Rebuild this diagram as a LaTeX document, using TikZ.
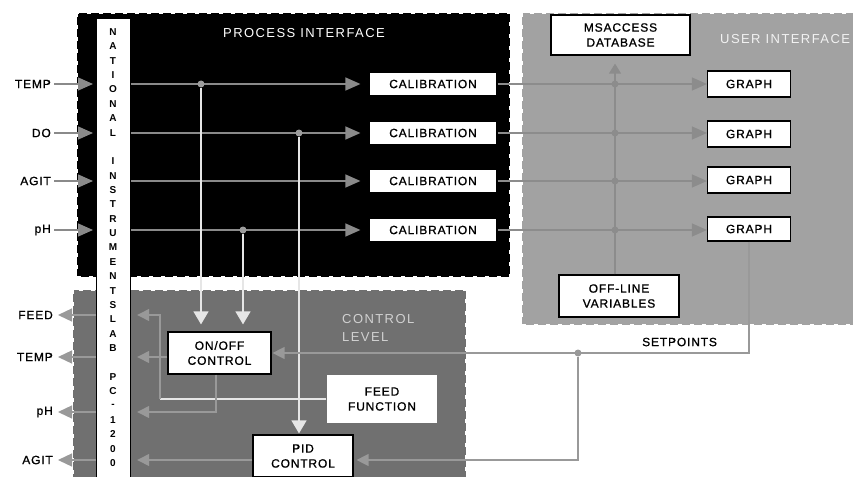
\documentclass[tikz,border=0pt]{standalone}
\usepackage{fontspec}
\setmainfont{Liberation Sans}
\newfontfamily\lblfont[LetterSpace=7,FakeBold=0.9]{Liberation Sans}
\newfontfamily\ttlfont[LetterSpace=11]{Liberation Sans}
\usetikzlibrary{arrows.meta,calc}
\definecolor{ctrlbg}{HTML}{707070}
\definecolor{userbg}{HTML}{A2A2A2}
\definecolor{lineg}{HTML}{8A8A8A}
\definecolor{uline}{HTML}{8C8C8C}
\definecolor{cline}{HTML}{999999}
\definecolor{vline}{HTML}{E6E6E6}
\begin{document}
\begin{tikzpicture}[x=1pt,y=-1pt,
  lbl/.style={font={\lblfont\fontsize{12}{15}\selectfont}, inner sep=0pt},
  ttl/.style={font={\ttlfont\fontsize{13}{18}\selectfont}, inner sep=0pt, align=left},
  box/.style={draw=black, line width=1.2pt, fill=white, font={\lblfont\fontsize{12}{15}\selectfont}, align=center, inner sep=0pt},
  nilet/.style={font={\bfseries\fontsize{10}{10}\selectfont}, inner sep=0pt},
  sig/.style={draw=lineg, line width=1.3pt},
  usig/.style={draw=uline, line width=1.3pt},
  csig/.style={draw=cline, line width=1.3pt},
  wsig/.style={draw=vline, line width=1.3pt},
  gtip/.style={-{Triangle[length=15pt,width=13pt]}},
  ctip/.style={-{Triangle[length=12pt,width=12pt]}},
  wtip/.style={-{Triangle[length=13pt,width=15pt]}},
  dotn/.style={circle, fill=#1, minimum size=7pt, inner sep=0pt},
  region/.style={draw=white, line width=1.5pt, dash pattern=on 4pt off 8pt}]
\useasboundingbox (0,0) rectangle (853,476);
% regions
\fill[black] (77,13) rectangle (510,277);
\draw[region] (77,13) rectangle (510,277);
\fill[userbg] (522,13) rectangle (870,325);
\draw[region] (522,13) rectangle (870,325);
\fill[ctrlbg] (73,290) rectangle (466,490);
\draw[region] (73,290) rectangle (466,490);
% NI bar
\node[draw=black, fill=white, line width=1.2pt, minimum width=34pt, minimum height=480pt, anchor=north west, inner sep=0pt] (ni) at (96,18) {};
\foreach \ch [count=\i from 0] in {N,A,T,I,O,N,A,L,{},I,N,S,T,R,U,M,E,N,T,S,L,A,B,{},P,C,-,1,2,0,0}
  \node[nilet] (nl\i) at (113,{32+14.37*\i}) {\ch};
% titles
\node[ttl, anchor=west, text=white] (pit) at (223,33) {PROCESS INTERFACE};
\node[ttl, anchor=west, text=white!95!black] (uit) at (720,39) {USER INTERFACE};
\node[ttl, anchor=west, text=white!82!black] (clt) at (342,328) {CONTROL\\LEVEL};
\node[lbl, anchor=west] (spl) at (642,342) {SETPOINTS};
% boxes
\node[box, minimum width=128pt, minimum height=24pt] (c1) at (433,84) {CALIBRATION};
\node[box, minimum width=128pt, minimum height=24pt] (c2) at (433,133) {CALIBRATION};
\node[box, minimum width=128pt, minimum height=24pt] (c3) at (433,181) {CALIBRATION};
\node[box, minimum width=128pt, minimum height=24pt] (c4) at (433,230) {CALIBRATION};
\node[box, minimum width=83pt, minimum height=26pt] (g1) at (749,84) {GRAPH};
\node[box, minimum width=83pt, minimum height=26pt] (g2) at (749,134) {GRAPH};
\node[box, minimum width=83pt, minimum height=26pt] (g3) at (749,180) {GRAPH};
\node[box, minimum width=83pt, minimum height=24pt] (g4) at (749,229) {GRAPH};
\node[box, minimum width=139pt, minimum height=40pt] (ms) at (620.5,35) {MSACCESS\\DATABASE};
\node[box, minimum width=120pt, minimum height=42pt] (off) at (619,296) {OFF-LINE\\VARIABLES};
\node[box, minimum width=103pt, minimum height=42pt] (onoff) at (219.5,353) {ON/OFF\\CONTROL};
\node[box, draw=none, minimum width=110pt, minimum height=48pt] (ff) at (382,399) {FEED\\FUNCTION};
\node[box, minimum width=100pt, minimum height=42pt] (pid) at (303,456) {PID\\CONTROL};
% input labels
\node[lbl, anchor=east] (tin) at (51,84) {TEMP};
\node[lbl, anchor=east] (din) at (51,133) {DO};
\node[lbl, anchor=east] (ain) at (51,181) {AGIT};
\node[lbl, anchor=east] (pin) at (51,230) {pH};
\foreach \n in {tin,din,ain,pin}
  \draw[sig, gtip, shorten >=3pt] ([xshift=3pt]\n.east) -- (\n -| ni.west);
% process lines
\foreach \c in {c1,c2,c3,c4}
  \draw[sig, gtip, shorten >=8pt] (\c -| ni.east) -- (\c.west);
% user lines
\coordinate (dbx) at (615,0);
\draw[usig, -{Triangle[length=10pt,width=12pt]}, shorten >=8pt] (off.north -| dbx) -- (ms.south -| dbx);
\foreach \c/\g in {c1/g1,c2/g2,c3/g3,c4/g4}
  \draw[usig, gtip] (\c.east) -- (\c.east -| \g.west);
\foreach \c [count=\k] in {c1,c2,c3,c4}
  \node[dotn=uline] (ud\k) at (\c -| dbx) {};
% dots in process
\node[dotn=lineg!85!white] (d1) at (201,84) {};
\node[dotn=lineg!85!white] (d2) at (299,133) {};
\node[dotn=lineg!85!white] (d4) at (243,230) {};
% vertical white arrows
\draw[wsig, wtip, shorten >=7pt] (d1) -- (d1 |- onoff.north);
\draw[wsig, wtip, shorten >=7pt] (d4) -- (d4 |- onoff.north);
\draw[wsig, wtip, shorten >=1pt] (d2) -- (d2 |- pid.north);
% setpoints
\draw[csig, ctip, shorten >=1pt] (g4.south) |- (onoff.east);
\node[dotn=cline] (spd) at (578,353) {};
\draw[csig, ctip, shorten >=3pt] (spd) |- ([yshift=-4pt]pid.east);
% control outputs
\coordinate (fc) at (160,399);
\coordinate (fo) at (0,315);
\draw[wsig] (ff.west) -- (fc);
\draw[csig, ctip, shorten >=6pt] (fc) |- (fo -| ni.east);
\draw[csig, ctip, shorten >=6pt] ([yshift=-4pt]onoff.west) -- ([yshift=-4pt]onoff.west -| ni.east);
\coordinate (po) at (0,412);
\draw[csig, ctip, shorten >=6pt] ([xshift=-3.5pt]onoff.south) |- (po -| ni.east);
\draw[csig, ctip, shorten >=6pt] ([yshift=-4pt]pid.west) -- ([yshift=-4pt]pid.west -| ni.east);
% output labels
\node[lbl, anchor=east] (fout) at (53,315) {FEED};
\node[lbl, anchor=east] (tout) at (53,357) {TEMP};
\node[lbl, anchor=east] (pout) at (53,412) {pH};
\node[lbl, anchor=east] (aout) at (53,460) {AGIT};
\foreach \n in {fout,tout,pout,aout}
  \draw[csig, -{Triangle[length=14pt,width=13pt]}, shorten >=5pt] (\n -| ni.west) -- (\n.east);
\end{tikzpicture}
\end{document}
